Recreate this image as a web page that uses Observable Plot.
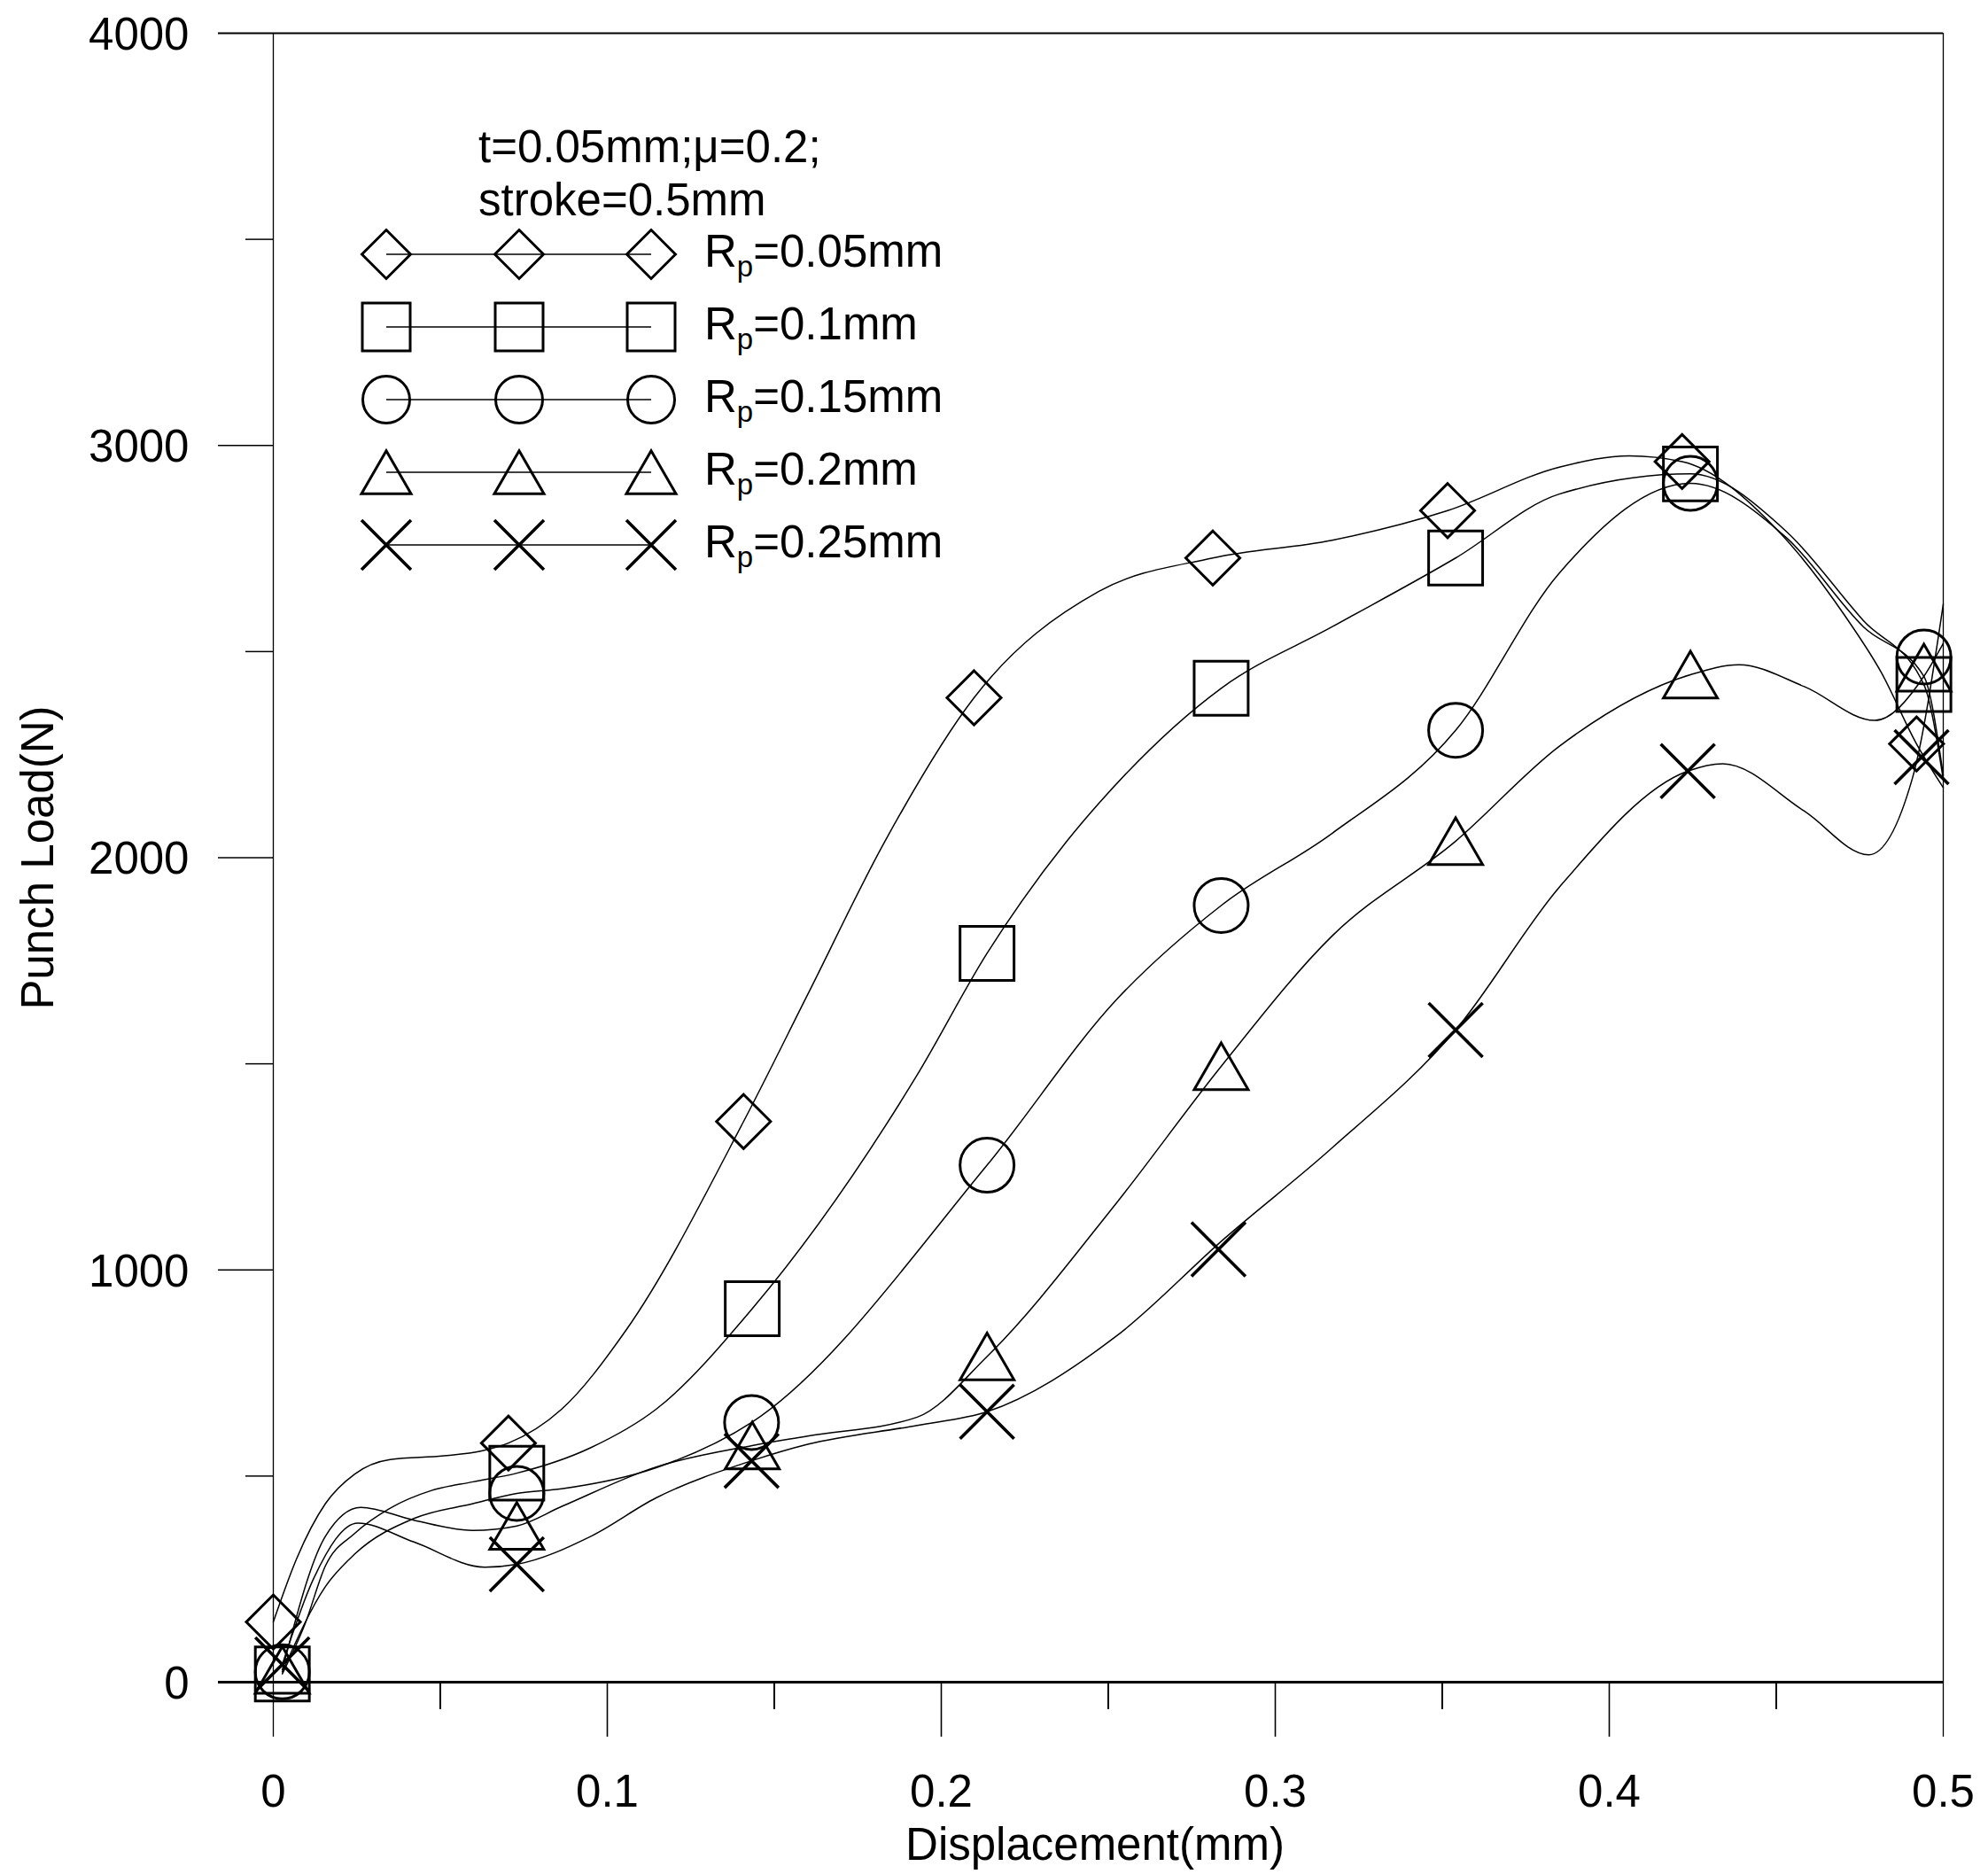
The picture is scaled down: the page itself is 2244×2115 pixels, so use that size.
<!DOCTYPE html>
<html>
<head>
<meta charset="utf-8">
<script src="https://cdn.jsdelivr.net/npm/d3@7"></script>
<script src="https://cdn.jsdelivr.net/npm/@observablehq/plot@0.6"></script>
<style>
  html, body { margin: 0; padding: 0; background: #fff; }
  svg { display: block; }
</style>
</head>
<body>
<div id="chart"></div>
<script>
// ---------------- data ----------------
const xTicks = [0, 0.1, 0.2, 0.3, 0.4, 0.5];
const xTickLabels = ["0", "0.1", "0.2", "0.3", "0.4", "0.5"];
const xMinorTicks = [0.05, 0.15, 0.25, 0.35, 0.45];
const yTicks = [0, 1000, 2000, 3000, 4000];
const yTickLabels = ["0", "1000", "2000", "3000", "4000"];
const yMinorTicks = [500, 1500, 2500, 3500];

const seriesNames = ["Rp=0.05mm", "Rp=0.1mm", "Rp=0.15mm", "Rp=0.2mm", "Rp=0.25mm"];
const radiusLabels = ["0.05", "0.1", "0.15", "0.2", "0.25"];
const noteLines = ["t=0.05mm;\u03bc=0.2;", "stroke=0.5mm"];
const xTitle = "Displacement(mm)";
const yTitle = "Punch Load(N)";

// symbol points [displacement mm, load N]
const marksRp005 = [[0,146],[0.0704,580],[0.1408,1360],[0.2098,2388],[0.2813,2727],[0.3516,2842],[0.4218,2961],[0.492,2276]];
const marksRp010 = [[0.0027,20],[0.0729,507],[0.1434,906],[0.2137,1768],[0.2838,2411],[0.354,2727],[0.4243,2931],[0.4942,2420]];
const marksRp015 = [[0.0027,25],[0.0729,458],[0.1432,630],[0.2137,1254],[0.2838,1884],[0.354,2309],[0.4243,2908],[0.4942,2487]];
const marksRp020 = [[0.0027,30],[0.0729,379],[0.1434,574],[0.2137,790],[0.2838,1494],[0.354,2040],[0.4243,2444],[0.4942,2461]];
const marksRp025 = [[0.0027,43],[0.0729,286],[0.1432,537],[0.2137,656],[0.283,1050],[0.354,1582],[0.4235,2210],[0.4935,2244]];

// smoothed curve points
const curveRp005 = [[0,146],[0.007,300],[0.0156,433],[0.0244,505],[0.035,540],[0.051,549],[0.0624,561],[0.0704,580],[0.0863,662],[0.1057,855],[0.1408,1360],[0.1603,1673],[0.183,2038],[0.2098,2388],[0.2472,2646],[0.2813,2727],[0.317,2770],[0.3516,2842],[0.3853,2948],[0.406,2975],[0.4218,2961],[0.4502,2796],[0.4708,2584],[0.4814,2450],[0.492,2276],[0.5,2170]];
const curveRp010 = [[0.0027,20],[0.0094,139],[0.0156,282],[0.0244,361],[0.035,422],[0.0474,465],[0.0598,486],[0.0729,507],[0.0951,569],[0.1146,662],[0.1434,906],[0.1927,1472],[0.2137,1768],[0.2374,2038],[0.2472,2132],[0.2838,2411],[0.317,2560],[0.354,2727],[0.385,2882],[0.4243,2931],[0.4532,2790],[0.4761,2575],[0.4942,2420],[0.5,2190]];
const curveRp015 = [[0.0027,25],[0.0156,232],[0.0244,311],[0.0421,397],[0.0598,433],[0.0729,458],[0.0863,469],[0.1146,520],[0.1432,630],[0.2137,1254],[0.2525,1656],[0.2838,1884],[0.317,2059],[0.354,2309],[0.385,2690],[0.4243,2908],[0.4532,2775],[0.4761,2560],[0.4942,2440],[0.5,2200]];
const curveRp020 = [[0.0027,30],[0.0156,354],[0.0262,424],[0.0421,393],[0.0597,368],[0.0729,379],[0.0863,426],[0.1146,522],[0.1434,574],[0.160,597],[0.1928,643],[0.2137,790],[0.2525,1163],[0.2838,1494],[0.317,1810],[0.354,2040],[0.385,2270],[0.4243,2444],[0.4388,2468],[0.4584,2415],[0.4795,2333],[0.4942,2440],[0.5,2520]];
const curveRp025 = [[0.0027,43],[0.012,250],[0.0253,386],[0.0421,340],[0.0633,279],[0.0729,286],[0.0951,354],[0.1146,447],[0.1432,537],[0.160,577],[0.1928,623],[0.2137,656],[0.2525,840],[0.2846,1075],[0.317,1296],[0.354,1582],[0.385,1928],[0.4235,2210],[0.434,2228],[0.4584,2113],[0.4777,2007],[0.4907,2191],[0.5,2615]];

const allMarks = [marksRp005, marksRp010, marksRp015, marksRp020, marksRp025];
const allCurves = [curveRp005, curveRp010, curveRp015, curveRp020, curveRp025];

// ---------------- styling / layout ----------------
const FONT = "Liberation Sans, Arial, Helvetica, sans-serif";
const W = 2244, H = 2115;
const mL = 308, mR = 51, mT = 37, mB = 217;
const plotW = W - mL - mR, plotH = H - mT - mB;

const plotSymbols = ["diamond2", "square2", "circle", "triangle2", "times"];
const plotR = [27.5, 38.8, 30.5, 29.1, 27.8];
const plotDy = [0, 0, 0, 8.8, 0];
const plotSW = [3, 3, 3, 3, 3.6];

const curveRows = allCurves.flatMap((c, i) => c.map(([x, y]) => ({x, y, series: seriesNames[i]})));
const markRows = allMarks.map((m, i) => m.map(([x, y]) => ({x, y, series: seriesNames[i]})));

const txt = {fontSize: 51, fontFamily: FONT, fill: "black", lineAnchor: "middle"};

const marks = [
  // frame & axes
  Plot.ruleY([yTicks[yTicks.length - 1]], {insetLeft: -62, stroke: "black", strokeWidth: 2}),
  Plot.ruleY([yTicks[0]], {insetLeft: -62, stroke: "black", strokeWidth: 3}),
  Plot.ruleY(yTicks.slice(1, -1), {insetLeft: -62, insetRight: plotW, stroke: "black", strokeWidth: 1.5}),
  Plot.ruleY(yMinorTicks, {insetLeft: -31, insetRight: plotW, stroke: "black", strokeWidth: 1.5}),
  Plot.ruleX([xTicks[0], xTicks[xTicks.length - 1]], {insetBottom: -62, stroke: "black", strokeWidth: 1.3}),
  Plot.ruleX(xTicks.slice(1, -1), {insetTop: plotH, insetBottom: -62, stroke: "black", strokeWidth: 1.6}),
  Plot.ruleX(xMinorTicks, {insetTop: plotH, insetBottom: -31, stroke: "black", strokeWidth: 2}),
  // tick labels
  Plot.text(xTicks, {...txt, x: d => d, frameAnchor: "bottom", textAnchor: "middle", dy: 124,
    text: (d, i) => xTickLabels[i]}),
  Plot.text(yTicks, {...txt, y: d => d, frameAnchor: "left", textAnchor: "end", dx: -95, dy: 2,
    text: (d, i) => yTickLabels[i]}),
  // axis titles
  Plot.text([xTitle], {...txt, frameAnchor: "bottom", textAnchor: "middle", dx: -15, dy: 184, text: d => d}),
  Plot.text([yTitle], {...txt, frameAnchor: "left", textAnchor: "middle", rotate: -90, dx: -265, text: d => d}),
  // curves
  Plot.line(curveRows, {x: "x", y: "y", z: "series", curve: "monotone-x", stroke: "black", strokeWidth: 1.5}),
  // symbols
  ...markRows.map((rows, i) => Plot.dot(rows, {x: "x", y: "y", symbol: plotSymbols[i], r: plotR[i],
    dy: plotDy[i], fill: "none", stroke: "black", strokeWidth: plotSW[i]}))
];

const svg = Plot.plot({
  width: W, height: H,
  marginLeft: mL, marginRight: mR, marginTop: mT, marginBottom: mB,
  x: {domain: [0, 0.5], axis: null},
  y: {domain: [0, 4000], axis: null},
  style: {background: "white", color: "black", fontFamily: FONT},
  marks
});

// ---------------- in-plot legend ----------------
const sel = d3.select(svg);
const lg = sel.append("g").attr("font-family", FONT).attr("fill", "black").attr("text-anchor", "start");
noteLines.forEach((t, i) => {
  lg.append("text").attr("x", 540).attr("y", 183 + 60 * i).attr("font-size", 51).text(t);
});
const legSymbols = [d3.symbolDiamond2, d3.symbolSquare2, d3.symbolCircle, d3.symbolTriangle2, d3.symbolTimes];
const legSizes = [1928, 3713, 2206, 2245, 2046];
const legOff = [0, 0, 0, 8.1, 0];
const legX = [436, 586, 735];
radiusLabels.forEach((v, i) => {
  const cy = 287 + 82 * i;
  lg.append("line").attr("x1", legX[0]).attr("x2", legX[2]).attr("y1", cy).attr("y2", cy)
    .attr("stroke", "black").attr("stroke-width", 1.5);
  legX.forEach(cx => {
    lg.append("path").attr("d", d3.symbol(legSymbols[i], legSizes[i])())
      .attr("transform", `translate(${cx},${cy + legOff[i]})`)
      .attr("fill", "none").attr("stroke", "black").attr("stroke-width", i === 4 ? 3.6 : 3);
  });
  const t = lg.append("text").attr("x", 795).attr("y", cy + 14).attr("font-size", 51);
  t.append("tspan").text("R");
  t.append("tspan").attr("font-size", 33).attr("dy", 11).text("p");
  t.append("tspan").attr("dy", -11).text("=" + v + "mm");
});

document.getElementById("chart").appendChild(svg);
</script>
</body>
</html>
